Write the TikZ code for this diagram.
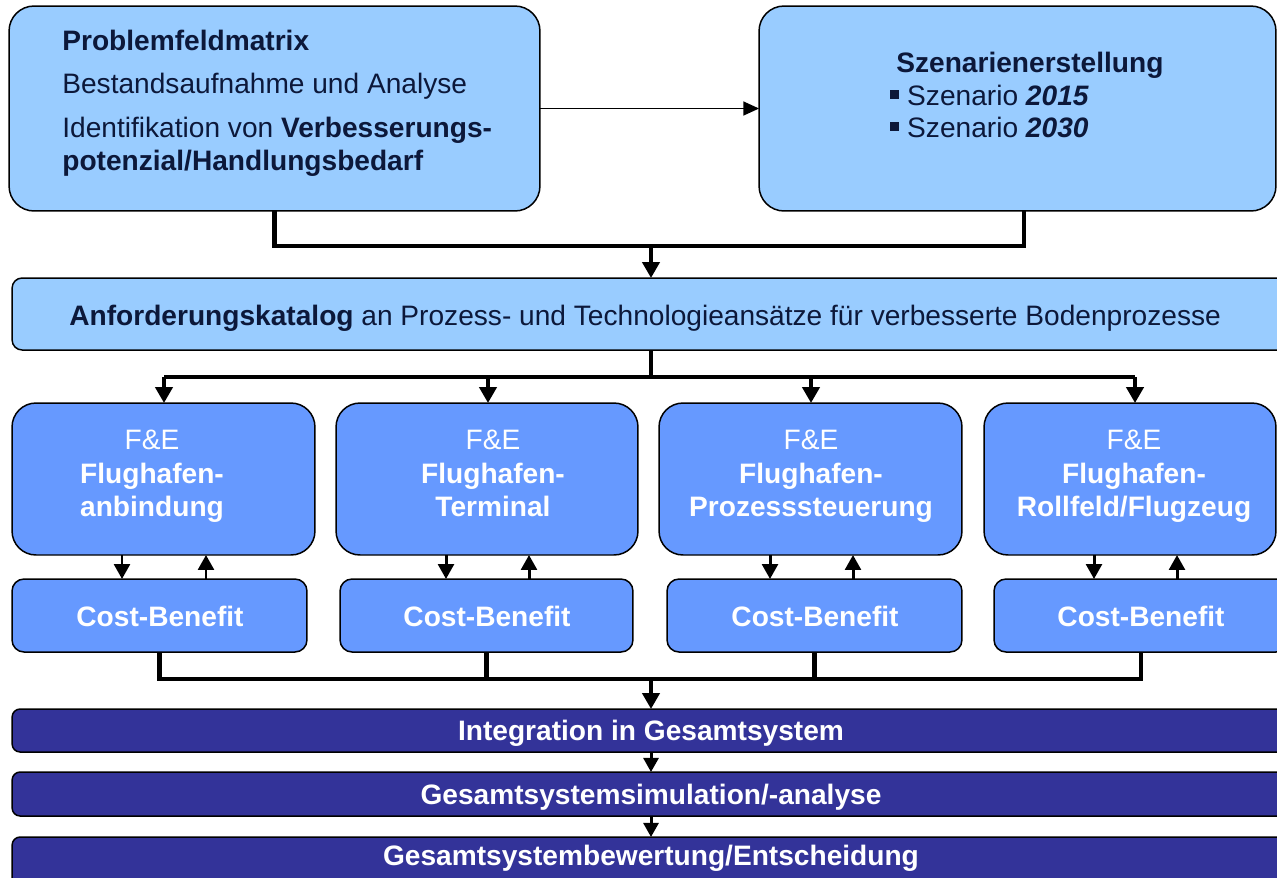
\documentclass[tikz,border=0pt]{standalone}
\usepackage{fontspec}
\setmainfont{Liberation Sans}
\usetikzlibrary{arrows.meta}
\definecolor{lb}{HTML}{99CCFF}
\definecolor{mb}{HTML}{6699FF}
\definecolor{db}{HTML}{333399}
\definecolor{tx}{RGB}{12,24,58}
\begin{document}
\begin{tikzpicture}[x=0.02cm,y=-0.02cm,
  every node/.style={font=\fontsize{16}{19}\selectfont},
  boxbase/.style={draw=black, line width=0.85pt, inner sep=0pt, outer sep=0pt},
  topbox/.style={boxbase, fill=lb, rounded corners=0.5cm},
  akbox/.style={boxbase, fill=lb, rounded corners=0.2cm},
  febox/.style={boxbase, fill=mb, rounded corners=0.48cm, minimum height=3.04cm},
  cbbox/.style={boxbase, fill=mb, rounded corners=0.24cm, minimum height=1.46cm},
  barbox/.style={boxbase, fill=db, rounded corners=0.16cm, minimum width=25.8cm},
  txt/.style={inner sep=0pt, text=tx, anchor=base west},
  wtxt/.style={inner sep=0pt, text=white, anchor=base},
  wbtxt/.style={inner sep=0pt, text=white, anchor=base, font=\fontsize{16}{19}\selectfont\bfseries},
  thickc/.style={line width=2.8pt, line join=miter},
  bigarrow/.style={line width=2.8pt, -{Triangle[length=9pt,width=9.6pt]}},
  smallarrow/.style={line width=1.7pt, -{Triangle[length=8.5pt,width=9pt]}},
  thinarrow/.style={line width=0.9pt, -{Triangle[length=9pt,width=8pt]}},
  bararrow/.style={line width=1.7pt, -{Triangle[length=8pt,width=8.5pt]}}
]
\clip (0,0) rectangle (1277,877);
% top boxes
\node[topbox, minimum width=10.62cm, minimum height=4.10cm] (pfm) at (274.5,108.5) {};
\node[topbox, minimum width=10.34cm, minimum height=4.10cm] (sz) at (1017.5,108.5) {};
\node[txt] (pfm1) at (62,50) {\bfseries Problemfeldmatrix};
\node[txt] (pfm2) at (62,93) {Bestandsaufnahme und Analyse};
\node[txt] (pfm3) at (62,137) {Identifikation von \textbf{Verbesserungs-}};
\node[txt] (pfm4) at (62,170) {\bfseries potenzial/Handlungsbedarf};
\node[txt] (sz1) at (896,72) {\bfseries Szenarienerstellung};
\node[txt] (sz2) at (890,105) {\raisebox{0.22em}{\rule{0.3em}{0.3em}}\hspace{0.3em}Szenario \textbf{\itshape 2015}};
\node[txt] (sz3) at (890,137) {\raisebox{0.22em}{\rule{0.3em}{0.3em}}\hspace{0.3em}Szenario \textbf{\itshape 2030}};
\draw[thinarrow] (pfm) -- (sz);
% Anforderungskatalog
\node[akbox, minimum width=25.8cm, minimum height=1.44cm] (ak) at (657,314) {};
\node[txt] (akt) at (69,325) {\textbf{Anforderungskatalog} an Prozess- und Technologieansätze für verbesserte Bodenprozesse};
\coordinate (t1) at (651,246);
\coordinate (t2) at (1024,246);
\draw[thickc] (pfm.south) -- (pfm.south |- t1) -- (t2) -- (t2 |- sz.south);
\draw[bigarrow] (t1) -- (t1 |- ak.north);
% F&E boxes
\node[febox, minimum width=6.06cm] (fe1) at (163.5,479) {};
\node[febox, minimum width=6.04cm] (fe2) at (487,479) {};
\node[febox, minimum width=6.06cm] (fe3) at (810.5,479) {};
\node[febox, minimum width=5.84cm] (fe4) at (1130,479) {};
\node[wtxt] (fe1a) at (152,449) {F\&E};
\node[wbtxt] (fe1b) at (152,483) {Flughafen-};
\node[wbtxt] (fe1c) at (152,516) {anbindung};
\node[wtxt] (fe2a) at (493,449) {F\&E};
\node[wbtxt] (fe2b) at (493,483) {Flughafen-};
\node[wbtxt] (fe2c) at (493,516) {Terminal};
\node[wtxt] (fe3a) at (811,449) {F\&E};
\node[wbtxt] (fe3b) at (811,483) {Flughafen-};
\node[wbtxt] (fe3c) at (811,516) {Prozesssteuerung};
\node[wtxt] (fe4a) at (1134,449) {F\&E};
\node[wbtxt] (fe4b) at (1134,483) {Flughafen-};
\node[wbtxt] (fe4c) at (1134,516) {Rollfeld/Flugzeug};
\coordinate (a0) at (651,377);
\coordinate (a1) at (164,377);
\coordinate (a2) at (488,377);
\coordinate (a3) at (811,377);
\coordinate (a4) at (1135,377);
\draw[thickc] (a0 |- ak.south) -- (a0);
\draw[thickc] (a1) -- (a4);
\draw[bigarrow] (a1) -- (a1 |- fe1.north);
\draw[bigarrow] (a2) -- (a2 |- fe2.north);
\draw[bigarrow] (a3) -- (a3 |- fe3.north);
\draw[bigarrow] (a4) -- (a4 |- fe4.north);
% Cost-Benefit boxes
\node[cbbox, minimum width=5.90cm] (cb1) at (159.5,615.5) {};
\node[cbbox, minimum width=5.86cm] (cb2) at (486.5,615.5) {};
\node[cbbox, minimum width=5.90cm] (cb3) at (814.5,615.5) {};
\node[cbbox, minimum width=5.88cm] (cb4) at (1141,615.5) {};
\node[wbtxt] (cb1t) at (160,626) {Cost-Benefit};
\node[wbtxt] (cb2t) at (487,626) {Cost-Benefit};
\node[wbtxt] (cb3t) at (815,626) {Cost-Benefit};
\node[wbtxt] (cb4t) at (1141,626) {Cost-Benefit};
\coordinate (d1) at (122,0); \coordinate (u1) at (206,0);
\coordinate (d2) at (446,0); \coordinate (u2) at (529,0);
\coordinate (d3) at (770,0); \coordinate (u3) at (853,0);
\coordinate (d4) at (1094,0); \coordinate (u4) at (1177,0);
\draw[smallarrow] (d1 |- fe1.south) -- (d1 |- cb1.north);
\draw[smallarrow] (u1 |- cb1.north) -- (u1 |- fe1.south);
\draw[smallarrow] (d2 |- fe2.south) -- (d2 |- cb2.north);
\draw[smallarrow] (u2 |- cb2.north) -- (u2 |- fe2.south);
\draw[smallarrow] (d3 |- fe3.south) -- (d3 |- cb3.north);
\draw[smallarrow] (u3 |- cb3.north) -- (u3 |- fe3.south);
\draw[smallarrow] (d4 |- fe4.south) -- (d4 |- cb4.north);
\draw[smallarrow] (u4 |- cb4.north) -- (u4 |- fe4.south);
% bottom bars
\node[barbox, minimum height=0.86cm] (bar1) at (657,730.5) {};
\node[barbox, minimum height=0.88cm] (bar2) at (657,794) {};
\node[barbox, minimum height=1.2cm] (bar3) at (657,867) {};
\node[wbtxt] (bar1t) at (651,740) {Integration in Gesamtsystem};
\node[wbtxt] (bar2t) at (651,804) {Gesamtsystemsimulation/-analyse};
\node[wbtxt] (bar3t) at (651,865) {Gesamtsystembewertung/Entscheidung};
\coordinate (j3) at (651,679);
\draw[thickc] (cb1.south) -- (cb1.south |- j3) -- (cb4.south |- j3) -- (cb4.south);
\draw[thickc] (cb2.south) -- (cb2.south |- j3);
\draw[thickc] (cb3.south) -- (cb3.south |- j3);
\draw[bigarrow] (j3) -- (j3 |- bar1.north);
\draw[bararrow] (j3 |- bar1.south) -- (j3 |- bar2.north);
\draw[bararrow] (j3 |- bar2.south) -- (j3 |- bar3.north);
\end{tikzpicture}
\end{document}
